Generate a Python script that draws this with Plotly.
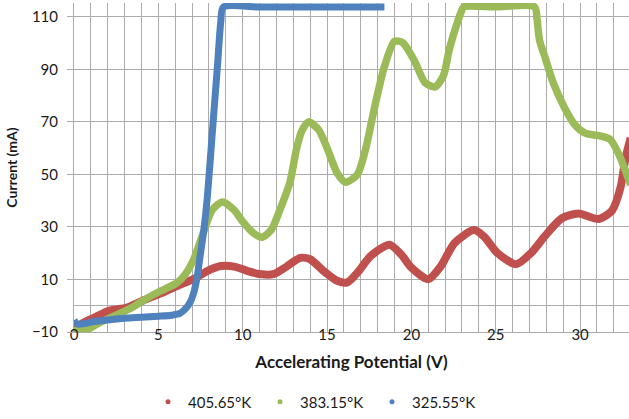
import plotly.graph_objects as go

# Franck-Hertz style current vs. accelerating potential at three oven temperatures
series_names = ["405.65°K", "383.15°K", "325.55°K"]
series_colors = ["#C0504D", "#9BBB59", "#4F81BD"]

v_405 = [0.0, 0.4, 1.1, 2.1, 3.1, 4.1, 5.1, 6.1, 7.1, 7.9, 8.7, 9.5, 10.3, 11.0,
         11.8, 12.6, 13.4, 14.0, 14.8, 15.6, 16.2, 16.8, 17.6, 18.7, 19.4, 20.0,
         21.0, 21.75, 22.55, 23.7, 24.3, 25.1, 26.2, 27.1, 27.9, 28.9, 29.9, 31.1,
         31.9, 32.4, 32.7, 33.0]
i_405 = [-9.0, -7.0, -4.8, -1.8, -0.8, 2.0, 4.6, 7.5, 10.2, 13.2, 15.1, 14.9, 13.2, 12.1,
         12.0, 14.9, 18.2, 17.7, 13.2, 9.5, 8.9, 12.6, 19.0, 23.2, 19.5, 14.5,
         10.1, 15.1, 23.8, 28.8, 26.4, 20.1, 15.8, 20.1, 26.4, 33.2, 35.1, 33.0,
         36.3, 45.1, 56.4, 63.9]

v_383 = [0.0, 0.8, 1.5, 2.5, 3.5, 4.1, 5.1, 6.1, 6.6, 7.1, 7.65, 8.2, 8.8, 9.5, 10.0,
         10.65, 11.15, 11.7, 12.2, 12.8, 13.2, 13.5, 13.9, 14.5, 15.0, 15.6, 16.1,
         16.8, 17.3, 17.8, 18.4, 19.0, 19.5, 20.2, 20.8, 21.4, 21.9, 22.25, 22.65,
         22.95, 23.1, 25.0, 27.3, 27.45, 27.6, 27.9, 28.4, 29.1, 29.7, 30.3, 31.3,
         31.8, 32.3, 33.0]
i_383 = [-9.5, -9.0, -6.5, -3.6, -0.5, 2.0, 5.5, 8.7, 12.0, 17.7, 27.5, 36.5, 39.5, 36.4,
         32.0, 27.6, 26.1, 28.9, 36.4, 47.0, 60.0, 66.5, 70.0, 67.0, 60.1, 50.5, 47.0,
         50.0, 60.0, 75.0, 91.0, 100.7, 100.1, 93.0, 85.0, 83.3, 87.6, 97.6, 106.3,
         111.8, 113.8, 113.8, 113.8, 109.0, 101.0, 95.0, 85.0, 75.1, 68.8, 65.7, 64.5,
         63.2, 57.6, 46.0]

v_325 = [0.0, 0.2, 0.6, 1.2, 2.0, 3.0, 4.0, 5.0, 5.8, 6.3, 6.6, 6.9, 7.1, 7.3, 7.5,
         7.7, 7.9, 8.2, 8.5, 8.7, 8.85, 11.0, 13.0, 15.0, 17.0, 18.4]
i_325 = [-5.5, -7.0, -6.8, -6.0, -5.4, -4.8, -4.4, -4.0, -3.6, -2.8, -1.2, 1.5, 5.0,
         11.0, 20.0, 29.0, 41.0, 66.0, 91.0, 108.0, 113.7, 113.7, 113.7, 113.7, 113.7,
         113.7]

x_tick_step = 5
y_tick_values = [-10, 10, 30, 50, 70, 90, 110]

grid = "#ababab"
text_col = "#1a1a1a"
font_family = "Lato"

fig = go.Figure()

curves = [(v_405, i_405, 8), (v_383, i_383, 7.5), (v_325, i_325, 7)]
for (v, i, w), color in zip(curves, series_colors):
    fig.add_trace(go.Scatter(
        x=v, y=i, mode="lines",
        line=dict(color=color, width=w, shape="spline", smoothing=0.7),
        showlegend=False, hoverinfo="skip",
    ))

# legend entries shown as small dots
for name, color in zip(series_names, series_colors):
    fig.add_trace(go.Scatter(
        x=[None], y=[None], mode="markers", name=name,
        marker=dict(color=color, size=5),
    ))

fig.update_layout(
    width=629, height=419,
    margin=dict(l=74, r=0, t=3, b=82),
    paper_bgcolor="white", plot_bgcolor="white",
    font=dict(family=font_family, size=15, color=text_col),
    showlegend=True,
    legend=dict(
        orientation="h", x=(148 - 74) / 555, xanchor="left",
        y=-(408 - 337) / 334, yanchor="middle",
        entrywidth=67, entrywidthmode="pixels",
        font=dict(family=font_family, size=15, color=text_col),
        bgcolor="rgba(0,0,0,0)",
    ),
    xaxis=dict(
        range=[0, 32.9], tick0=0, dtick=x_tick_step,
        showgrid=True, gridcolor=grid, gridwidth=1,
        minor=dict(dtick=1, showgrid=True, gridcolor=grid, gridwidth=1),
        showline=True, linecolor=grid, linewidth=1,
        zeroline=False, ticks="",
        ticklabelstandoff=-11,
        tickfont=dict(family=font_family, size=15, color=text_col),
        title=dict(text="<b>Accelerating Potential (V)</b>", standoff=14,
                   font=dict(family=font_family, size=17, color=text_col)),
    ),
    yaxis=dict(
        range=[-10, 115.25], tickmode="array", tickvals=y_tick_values,
        showgrid=True, gridcolor=grid, gridwidth=1,
        showline=True, linecolor=grid, linewidth=1,
        zeroline=True, zerolinecolor=grid, zerolinewidth=1,
        ticks="outside", ticklen=6, tickcolor=grid,
        ticklabelstandoff=6,
        tickfont=dict(family=font_family, size=15, color=text_col),
        title=dict(text="<b>Current (mA)</b>", standoff=10,
                   font=dict(family=font_family, size=14, color=text_col)),
    ),
)

fig.write_html("out.html")
